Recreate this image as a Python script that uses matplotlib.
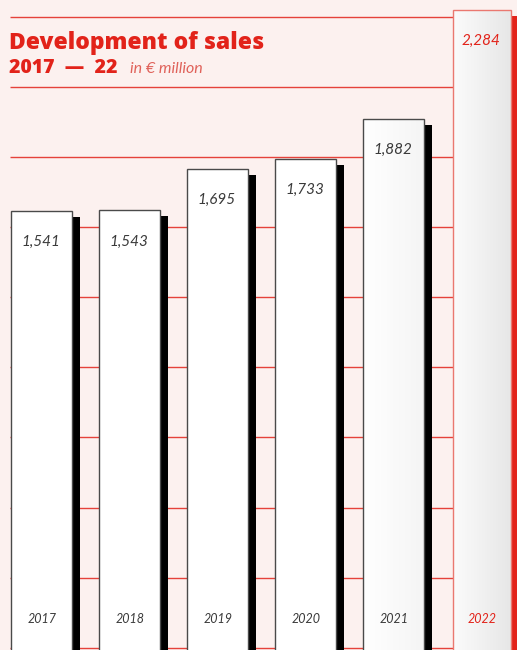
import numpy as np
import matplotlib.pyplot as plt
import matplotlib.transforms as mtransforms

# Umsatzentwicklung in Mio. EUR
years = ['2017', '2018', '2019', '2020', '2021', '2022']
sales = [1541, 1543, 1695, 1733, 1882, 2284]

RED = '#e2231a'
BG = '#fcf1ef'
W, H = 517, 650

plt.rcParams['font.family'] = ['Lato', 'DejaVu Sans']

fig = plt.figure(figsize=(W / 100, H / 100), dpi=100, facecolor=BG)
ax = fig.add_axes([0, 0, 1, 1])
ax.set_facecolor(BG)
XLIM = (-0.477, 5.398)
YLIM = (-82, 2321)
ax.set_xlim(*XLIM)
ax.set_ylim(*YLIM)
ax.axis('off')

px_x = W / (XLIM[1] - XLIM[0])
px_y = H / (YLIM[1] - YLIM[0])


def fy(py):
    # Pixelzeile (von oben) -> Achsenbruch
    return 1 - py / H


# Hilfslinien im Hintergrund
for py in [17, 87, 157, 227, 297, 367, 437, 508, 578, 648]:
    ax.plot([10 / W, 454 / W], [fy(py), fy(py)], transform=ax.transAxes,
            color='#e5423a', lw=1.0, zorder=1, solid_capstyle='butt')

x = np.arange(len(years))
base = YLIM[0] - 60
widths = [0.693] * 5 + [0.65]
dx = 8 / px_x
dy = 6 / px_y

# Schatten
shadow_cols = ['black'] * 5 + [RED]
ax.bar(x + dx, np.array(sales) - dy - base, bottom=base, width=widths,
       color=shadow_cols, zorder=2, lw=0)

# Saeulen: weiss, die letzten beiden mit Verlauf nach rechts
bars = ax.bar(x, np.array(sales) - base, bottom=base, width=widths,
              facecolor='white', zorder=3, lw=1.0,
              edgecolor=['#4a4a4a'] * 5 + ['#ea7870'])
for i in (4, 5):
    b = bars[i]
    x0, y0 = b.get_x(), b.get_y()
    x1, y1 = x0 + b.get_width(), y0 + b.get_height()
    start, end = (0.985, 0.905) if i == 5 else (1.0, 0.96)
    ramp = np.linspace(start, end, 64)
    rgb = np.dstack([ramp, ramp, ramp]).reshape(1, -1, 3)
    im = ax.imshow(rgb, extent=[x0, x1, y0, y1], aspect='auto', zorder=3.5,
                   interpolation='nearest')
    im.set_clip_path(b)
    b.set_zorder(4)
    b.set_facecolor('none')
ax.set_xlim(*XLIM)
ax.set_ylim(*YLIM)

# Werte
for i, v in enumerate(sales):
    ax.annotate(f'{v:,}', (x[i], v), xytext=(-1, -31), textcoords='offset pixels',
                ha='center', va='center', style='italic', fontsize=11,
                color=RED if i == 5 else '#3a3a3a', zorder=5)

# Jahre am Fuss
trans = mtransforms.blended_transform_factory(ax.transData, ax.transAxes)
for i, yr in enumerate(years):
    ax.text(x[i], fy(619), yr, transform=trans, ha='center', va='center',
            style='italic', fontsize=9, color=RED if i == 5 else '#3a3a3a',
            zorder=5)

# Titel
ax.text(9 / W, fy(43), 'Development of sales', transform=ax.transAxes,
        ha='left', va='center', fontsize=16.5, fontweight='heavy', color=RED,
        family=['Open Sans', 'DejaVu Sans'])
ax.text(9 / W, fy(68), '2017  —  22', transform=ax.transAxes,
        ha='left', va='center', fontsize=14, fontweight='heavy', color=RED,
        family=['Open Sans', 'DejaVu Sans'])
ax.text(130 / W, fy(69), 'in € million', transform=ax.transAxes,
        ha='left', va='center', fontsize=11.5, style='italic', color='#e0625a')

fig.savefig('out.png', dpi=100, facecolor=BG)
